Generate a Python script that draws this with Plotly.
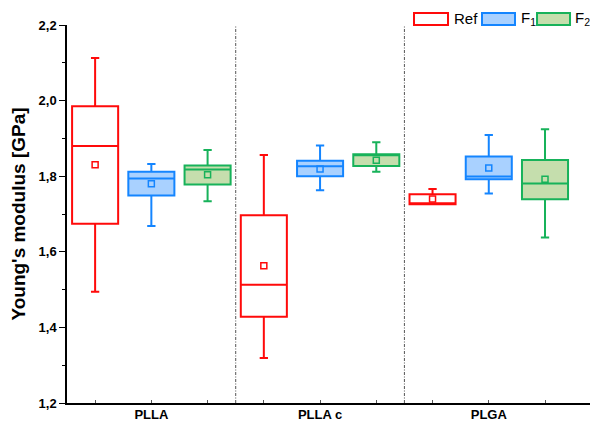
import plotly.graph_objects as go

# Young's modulus box statistics (GPa) for each material and sample group
materials = ["PLLA", "PLLA c", "PLGA"]
series = ["Ref", "F1", "F2"]
series_labels = ["Ref", "F<sub>1</sub>", "F<sub>2</sub>"]

ref_lower = [1.494, 1.319, 1.726]
ref_q1 = [1.674, 1.428, 1.726]
ref_median = [1.880, 1.513, 1.728]
ref_q3 = [1.985, 1.697, 1.752]
ref_upper = [2.113, 1.856, 1.766]
ref_mean = [1.830, 1.563, 1.740]

f1_lower = [1.668, 1.763, 1.754]
f1_q1 = [1.749, 1.800, 1.792]
f1_median = [1.794, 1.826, 1.799]
f1_q3 = [1.812, 1.841, 1.852]
f1_upper = [1.832, 1.881, 1.909]
f1_mean = [1.780, 1.819, 1.822]

f2_lower = [1.734, 1.812, 1.638]
f2_q1 = [1.778, 1.827, 1.739]
f2_median = [1.818, 1.856, 1.781]
f2_q3 = [1.828, 1.858, 1.843]
f2_upper = [1.869, 1.890, 1.924]
f2_mean = [1.804, 1.842, 1.792]

stats = {
    "Ref": (ref_lower, ref_q1, ref_median, ref_q3, ref_upper, ref_mean),
    "F1": (f1_lower, f1_q1, f1_median, f1_q3, f1_upper, f1_mean),
    "F2": (f2_lower, f2_q1, f2_median, f2_q3, f2_upper, f2_mean),
}

line_colors = {"Ref": "#FF0A0A", "F1": "#1485FF", "F2": "#17B25A"}
fill_colors = {"Ref": "#FFFFFF", "F1": "#A9D1FF", "F2": "#C5DEAD"}
offsets = {"Ref": -1 / 3, "F1": 0.0, "F2": 1 / 3}

FONT = "Liberation Sans, Arial, sans-serif"
cat_pos = [1, 2, 3]

fig = go.Figure()

for s in series:
    lo, q1, med, q3, up, mean = stats[s]
    xs = [c + offsets[s] for c in cat_pos]
    fig.add_trace(go.Box(
        x=xs, q1=q1, median=med, q3=q3, lowerfence=lo, upperfence=up,
        orientation="v", width=0.273, whiskerwidth=0.18,
        line=dict(color=line_colors[s], width=2),
        fillcolor=fill_colors[s], boxpoints=False,
        name=s, showlegend=False, hoverinfo="skip",
    ))
    fig.add_trace(go.Scatter(
        x=xs, y=mean, mode="markers",
        marker=dict(symbol="square-open", size=6,
                    color=line_colors[s], line=dict(width=1.5, color=line_colors[s])),
        showlegend=False, hoverinfo="skip",
    ))

# dash-dot separators between material groups
shapes = []
for xsep in [1.5, 2.5]:
    shapes.append(dict(type="line", xref="x", yref="paper", x0=xsep, x1=xsep,
                       y0=0, y1=1, line=dict(color="#555555", width=1,
                                             dash="3px,1.5px,1px,1.5px")))

# legend keys drawn above the plot area
legend_boxes = [(0.6635, 0.7285), (0.7935, 0.8566), (0.8987, 0.9618)]
legend_text_x = [0.737, 0.865, 0.968]
annotations = []
for s, lab, (x0, x1), tx in zip(series, series_labels, legend_boxes, legend_text_x):
    shapes.append(dict(type="rect", xref="paper", yref="paper", x0=x0, x1=x1,
                       y0=1.0, y1=1.0317, line=dict(color=line_colors[s], width=2),
                       fillcolor=fill_colors[s]))
    annotations.append(dict(xref="paper", yref="paper", x=tx, y=1.018, text=lab,
                            showarrow=False, xanchor="left", yanchor="middle",
                            font=dict(family=FONT, size=15, color="black")))

fig.update_layout(
    width=590, height=421,
    margin=dict(l=67, r=0, t=25, b=18),
    paper_bgcolor="white", plot_bgcolor="white",
    separators=",.",
    shapes=shapes, annotations=annotations,
    showlegend=False,
    font=dict(family=FONT, color="black"),
)

fig.update_yaxes(
    range=[1.2, 2.2], tickmode="linear", tick0=1.2, dtick=0.2, tickformat=".1f",
    showline=True, linecolor="black", linewidth=1.5, showgrid=False, zeroline=False,
    ticks="outside", ticklen=6, tickwidth=1, tickcolor="black",
    minor=dict(dtick=0.1, tick0=1.2, ticks="outside", ticklen=3, tickcolor="black", showgrid=False),
    tickfont=dict(family=FONT, size=13, weight="bold"),
    title=dict(text="Young's modulus [GPa]", standoff=8,
               font=dict(family=FONT, size=19, weight="bold")),
    automargin=False,
)

fig.update_xaxes(
    range=[0.5, 3.6], tickmode="array", tickvals=cat_pos, ticktext=materials,
    showline=True, linecolor="black", linewidth=1.5, showgrid=False, zeroline=False,
    ticks="inside", ticklen=3, tickcolor="#555555",
    minor=dict(tickmode="array", tickvals=[2 / 3, 4 / 3, 5 / 3, 7 / 3, 8 / 3, 10 / 3],
               ticks="inside", ticklen=3, tickcolor="#555555", showgrid=False),
    tickfont=dict(family=FONT, size=13, weight="bold"),
    ticklabelstandoff=-1,
    automargin=False,
)

fig.write_html("out.html")
